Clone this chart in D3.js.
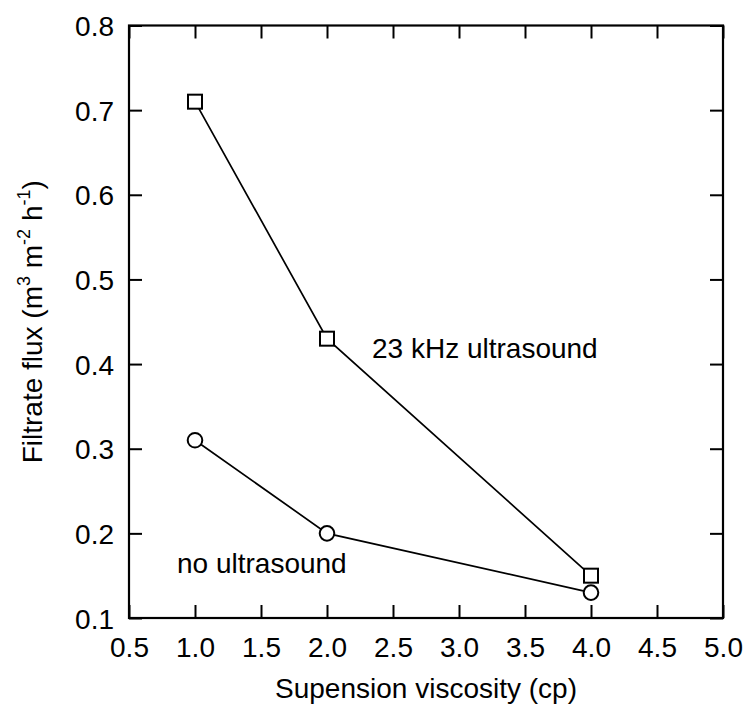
<!DOCTYPE html>
<html>
<head>
<meta charset="utf-8">
<script src="https://cdn.jsdelivr.net/npm/d3@7"></script>
<style>
  html, body { margin: 0; padding: 0; background: #fff; }
  svg { display: block; font-family: "Liberation Sans", Arial, Helvetica, sans-serif; }
</style>
</head>
<body>
<svg id="chart" width="747" height="710"></svg>
<script>
// Suspension viscosity (cp) at which flux was measured
const viscosity = [1.0, 2.0, 4.0];
// Filtrate flux (m3 m-2 h-1)
const fluxUltrasound = [0.71, 0.43, 0.15];
const fluxNoUltrasound = [0.31, 0.20, 0.13];

const xTicks = [0.5, 1.0, 1.5, 2.0, 2.5, 3.0, 3.5, 4.0, 4.5, 5.0];
const yTicks = [0.1, 0.2, 0.3, 0.4, 0.5, 0.6, 0.7, 0.8];

const seriesLabels = ["23 kHz ultrasound", "no ultrasound"];
const xTitle = "Supension viscosity (cp)";

const margin = { left: 129, right: 24, top: 25.5, bottom: 92 };
const W = 747, H = 710;
const svg = d3.select("#chart");

const x = d3.scaleLinear().domain([0.5, 5.0]).range([margin.left, W - margin.right]);
const y = d3.scaleLinear().domain([0.1, 0.8]).range([H - margin.bottom, margin.top]);

const fontSize = 28;
const tickLen = 13;

function styleAxis(g) {
  g.select(".domain").remove();
  g.selectAll(".tick line").attr("stroke", "#000").attr("stroke-width", 2);
}

// Bottom axis with labels
svg.append("g")
  .attr("transform", `translate(0,${y.range()[0]})`)
  .call(d3.axisBottom(x).tickValues(xTicks).tickSizeInner(-tickLen).tickSizeOuter(0)
    .tickPadding(0).tickFormat(d3.format(".1f")))
  .call(styleAxis)
  .call(g => g.selectAll(".tick text")
    .attr("y", 39).attr("dy", null)
    .attr("font-size", fontSize).attr("font-family", null).attr("fill", "#000"));

// Top axis, ticks only
svg.append("g")
  .attr("transform", `translate(0,${y.range()[1]})`)
  .call(d3.axisTop(x).tickValues(xTicks).tickSizeInner(-tickLen).tickSizeOuter(0).tickFormat(""))
  .call(styleAxis);

// Left axis with labels
svg.append("g")
  .attr("transform", `translate(${x.range()[0]},0)`)
  .call(d3.axisLeft(y).tickValues(yTicks).tickSizeInner(-tickLen).tickSizeOuter(0)
    .tickPadding(0).tickFormat(d3.format(".1f")))
  .call(styleAxis)
  .call(g => g.selectAll(".tick text")
    .attr("x", -15).attr("dy", 10).attr("text-anchor", "end")
    .attr("font-size", fontSize).attr("font-family", null).attr("fill", "#000"));

// Right axis, ticks only
svg.append("g")
  .attr("transform", `translate(${x.range()[1]},0)`)
  .call(d3.axisRight(y).tickValues(yTicks).tickSizeInner(-tickLen).tickSizeOuter(0).tickFormat(""))
  .call(styleAxis);

// Plot frame
svg.append("rect")
  .attr("x", x.range()[0]).attr("y", y.range()[1])
  .attr("width", x.range()[1] - x.range()[0])
  .attr("height", y.range()[0] - y.range()[1])
  .attr("fill", "none").attr("stroke", "#000").attr("stroke-width", 2.2);

// Series
const line = d3.line().x(d => x(d[0])).y(d => y(d[1]));
const upts = viscosity.map((v, i) => [v, fluxUltrasound[i]]);
const npts = viscosity.map((v, i) => [v, fluxNoUltrasound[i]]);

[upts, npts].forEach(pts => {
  svg.append("path").datum(pts).attr("d", line)
    .attr("fill", "none").attr("stroke", "#000").attr("stroke-width", 1.7);
});

const sq = 14;
svg.append("g").selectAll("rect").data(upts).join("rect")
  .attr("x", d => x(d[0]) - sq / 2).attr("y", d => y(d[1]) - sq / 2)
  .attr("width", sq).attr("height", sq)
  .attr("fill", "#fff").attr("stroke", "#000").attr("stroke-width", 2);

svg.append("g").selectAll("circle").data(npts).join("circle")
  .attr("cx", d => x(d[0])).attr("cy", d => y(d[1])).attr("r", 7.3)
  .attr("fill", "#fff").attr("stroke", "#000").attr("stroke-width", 2);

// Series annotations
svg.append("text").attr("x", 372).attr("y", 358)
  .attr("font-size", fontSize).text(seriesLabels[0]);
svg.append("text").attr("x", 177).attr("y", 573)
  .attr("font-size", fontSize).text(seriesLabels[1]);

// X title
svg.append("text")
  .attr("x", (x.range()[0] + x.range()[1]) / 2).attr("y", 698)
  .attr("text-anchor", "middle").attr("font-size", fontSize)
  .text(xTitle);

// Y title with superscripts
const yMid = (y.range()[0] + y.range()[1]) / 2;
const yt = svg.append("text")
  .attr("transform", `translate(42,${yMid}) rotate(-90)`)
  .attr("text-anchor", "middle").attr("font-size", fontSize);
const supSize = 18;
yt.append("tspan").text("Filtrate flux (m");
yt.append("tspan").attr("dy", -12).attr("font-size", supSize).text("3");
yt.append("tspan").attr("dy", 12).text(" m");
yt.append("tspan").attr("dy", -12).attr("font-size", supSize).text("-2");
yt.append("tspan").attr("dy", 12).text(" h");
yt.append("tspan").attr("dy", -12).attr("font-size", supSize).text("-1");
yt.append("tspan").attr("dy", 12).text(")");
</script>
</body>
</html>
